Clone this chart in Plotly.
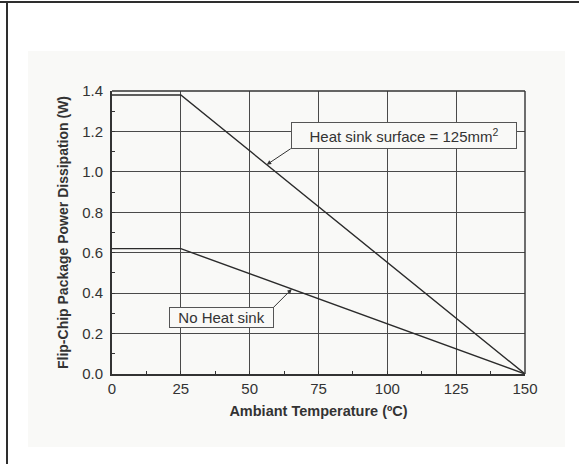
import numpy as np
import plotly.graph_objects as go

# Derating curves: ambient temperature (°C) vs. max package power (W)
temperature = [0, 25, 150]
heat_sink_125mm2 = [1.38, 1.38, 0.0]
no_heat_sink = [0.62, 0.62, 0.0]

x_ticks = [0, 25, 50, 75, 100, 125, 150]
y_ticks = [0.0, 0.2, 0.4, 0.6, 0.8, 1.0, 1.2, 1.4]
y_tick_text = ["0.0", "0.2", "0.4", "0.6", "0.8", "1.0", "1.2", "1.4"]

INK = "#333333"
GRID = "#4a4a4a"
PANEL = "#f9f9f7"
FONT = "Liberation Sans, Arial, sans-serif"

fig = go.Figure()
for series in (heat_sink_125mm2, no_heat_sink):
    fig.add_trace(go.Scatter(
        x=temperature, y=series, mode="lines",
        line=dict(color="#2b2b2b", width=1.4),
        showlegend=False, hoverinfo="skip",
    ))

# Points on each curve where the callout arrows land
hs_x = 56.2
hs_y = float(np.interp(hs_x, temperature, heat_sink_125mm2))
nh_x = 65.3
nh_y = float(np.interp(nh_x, temperature, no_heat_sink))

# Callout boxes: the arrow tail sits on a corner of each box
annotations = [
    dict(x=hs_x, y=hs_y, xref="x", yref="y",
         text="Heat sink surface = 125mm<sup>2</sup>",
         showarrow=True, ax=24, ay=-16, xanchor="left", yanchor="bottom",
         arrowhead=2, arrowsize=0.9, arrowwidth=1, arrowcolor=INK, standoff=0,
         font=dict(family=FONT, size=15, color=INK),
         bgcolor=PANEL, bordercolor="#555555", borderwidth=1,
         borderpad=4, width=216, height=17),
    dict(x=nh_x, y=nh_y, xref="x", yref="y",
         text="No Heat sink",
         showarrow=True, ax=-18, ay=18, xanchor="right", yanchor="top",
         arrowhead=2, arrowsize=0.9, arrowwidth=1, arrowcolor=INK, standoff=0,
         font=dict(family=FONT, size=15, color=INK),
         bgcolor=PANEL, bordercolor="#555555", borderwidth=1,
         borderpad=3, width=97, height=13),
]

shapes = [
    # light panel behind the chart
    dict(type="rect", xref="paper", yref="paper", layer="below",
         x0=-84 / 413, x1=(565 - 112) / 413,
         y0=-(447 - 374) / 283, y1=(374 - 51) / 283,
         fillcolor=PANEL, line=dict(width=0)),
    # frame on top and right of the plot area
    dict(type="line", xref="paper", yref="paper", x0=0, x1=1, y0=1, y1=1,
         line=dict(color=INK, width=1.4)),
    dict(type="line", xref="paper", yref="paper", x0=1, x1=1, y0=0, y1=1,
         line=dict(color=INK, width=1.4)),
    # page border lines
    dict(type="line", xref="paper", yref="paper",
         x0=-112 / 413, x1=(579 - 112) / 413,
         y0=(374 - 2) / 283, y1=(374 - 2) / 283,
         line=dict(color="#2e2e2e", width=2)),
    dict(type="line", xref="paper", yref="paper",
         x0=-105 / 413, x1=-105 / 413,
         y0=(374 - 464) / 283, y1=(374 - 2) / 283,
         line=dict(color="#2e2e2e", width=2)),
]

fig.update_layout(
    width=579, height=464,
    margin=dict(l=112, r=54, t=91, b=90),
    paper_bgcolor="white", plot_bgcolor=PANEL,
    font=dict(family=FONT, size=15, color=INK),
    annotations=annotations, shapes=shapes,
)

fig.update_xaxes(
    range=[0, 150], tickvals=x_ticks, ticktext=[str(v) for v in x_ticks],
    showgrid=True, gridcolor=GRID, gridwidth=1,
    showline=True, linecolor=INK, linewidth=2,
    ticks="inside", ticklen=3, tickcolor=INK,
    minor=dict(dtick=12.5, tick0=0, ticks="inside", ticklen=3,
               tickcolor=INK, showgrid=False),
    tickfont=dict(family=FONT, size=15, color=INK),
    zeroline=False,
    title=dict(text="<b>Ambiant Temperature (ºC)</b>",
               font=dict(family=FONT, size=14.5, color=INK), standoff=10),
)
fig.update_yaxes(
    range=[0, 1.4], tickvals=y_ticks, ticktext=y_tick_text,
    showgrid=True, gridcolor=GRID, gridwidth=1,
    showline=True, linecolor=INK, linewidth=2,
    ticks="inside", ticklen=3, tickcolor=INK,
    minor=dict(dtick=0.1, tick0=0, ticks="inside", ticklen=3,
               tickcolor=INK, showgrid=False),
    tickfont=dict(family=FONT, size=15, color=INK),
    ticklabelstandoff=4,
    zeroline=False,
    title=dict(text="<b>Flip-Chip Package Power Dissipation (W)</b>",
               font=dict(family=FONT, size=14, color=INK), standoff=10),
)

fig.write_html("out.html")
